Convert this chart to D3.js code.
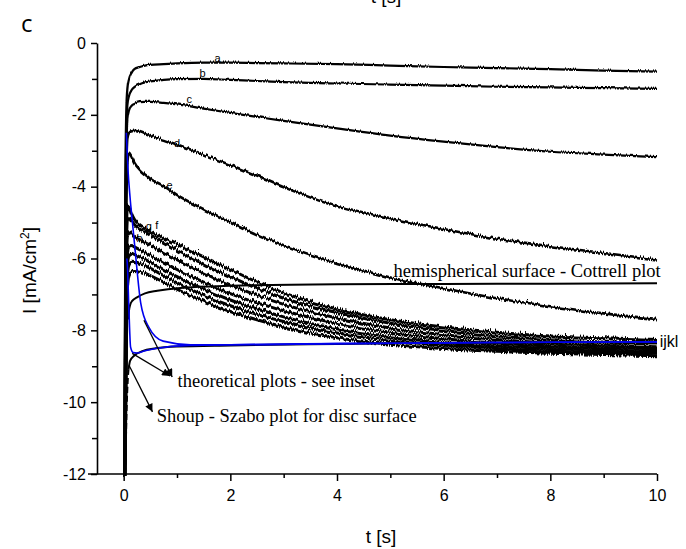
<!DOCTYPE html>
<html><head><meta charset="utf-8">
<script src="https://cdn.jsdelivr.net/npm/d3@7"></script>
<style>body{margin:0;background:#fff}svg{display:block}</style>
</head><body>
<svg id="chart" width="686" height="549"></svg>
<script>
// ---- data (t in s, I in mA/cm2) ----
const tTimes = [0.02, 0.03, 0.05, 0.07, 0.1, 0.15, 0.2, 0.3, 0.4, 0.5, 0.75, 1, 1.5, 2, 2.5, 3, 4, 5, 6, 7, 8, 9, 10];
const curveNames = ["a","b","c","d","e","f","g","h","i","j","k","l"];
const seriesA = [-12,-4,-1.8,-1.25,-0.98,-0.8,-0.7,-0.64,-0.6,-0.58,-0.56,-0.54,-0.52,-0.52,-0.53,-0.54,-0.56,-0.6,-0.64,-0.67,-0.7,-0.74,-0.77];
const seriesB = [-12,-5,-2.5,-1.7,-1.45,-1.28,-1.2,-1.12,-1.07,-1.04,-1.0,-0.98,-0.97,-1.0,-1.03,-1.06,-1.1,-1.13,-1.16,-1.19,-1.21,-1.23,-1.25];
const seriesC = [-12,-6,-3.2,-2.1,-1.85,-1.72,-1.67,-1.62,-1.61,-1.61,-1.64,-1.68,-1.8,-1.92,-2.03,-2.14,-2.35,-2.55,-2.72,-2.87,-3.0,-3.08,-3.15];
const seriesD = [-12,-7,-3.5,-2.6,-2.45,-2.4,-2.39,-2.42,-2.48,-2.54,-2.67,-2.8,-3.08,-3.37,-3.66,-3.96,-4.5,-4.85,-5.15,-5.42,-5.63,-5.82,-6.0];
const seriesE = [-12,-8,-4.5,-3.3,-3.02,-3.15,-3.3,-3.5,-3.63,-3.75,-3.95,-4.2,-4.6,-4.95,-5.3,-5.6,-6.1,-6.5,-6.8,-7.08,-7.3,-7.5,-7.66];
const seriesF = [-12,-9,-5.5,-4.45,-4.5,-4.7,-4.85,-5.0,-5.1,-5.2,-5.38,-5.55,-5.9,-6.25,-6.6,-6.9,-7.35,-7.65,-7.85,-8.0,-8.1,-8.15,-8.2];
const seriesG = [-12,-9.5,-6,-4.85,-4.8,-4.9,-5.0,-5.12,-5.2,-5.3,-5.5,-5.72,-6.1,-6.45,-6.78,-7.05,-7.45,-7.75,-7.95,-8.1,-8.2,-8.27,-8.3];
const seriesH = [-12,-10,-6.5,-5.3,-5.2,-5.25,-5.32,-5.42,-5.5,-5.58,-5.78,-5.98,-6.35,-6.68,-6.97,-7.22,-7.6,-7.88,-8.07,-8.2,-8.3,-8.36,-8.4];
const seriesI = [-12,-10.5,-7,-5.8,-5.6,-5.58,-5.62,-5.7,-5.78,-5.86,-6.05,-6.25,-6.6,-6.92,-7.18,-7.4,-7.75,-8.0,-8.18,-8.3,-8.38,-8.43,-8.45];
const seriesJ = [-12,-11,-7.5,-6.1,-5.85,-5.8,-5.83,-5.9,-5.97,-6.05,-6.25,-6.45,-6.8,-7.1,-7.35,-7.57,-7.9,-8.12,-8.28,-8.38,-8.45,-8.5,-8.52];
const seriesK = [-12,-11,-8,-6.4,-6.1,-6.02,-6.03,-6.08,-6.15,-6.22,-6.42,-6.62,-6.97,-7.26,-7.5,-7.7,-8.02,-8.22,-8.36,-8.45,-8.52,-8.56,-8.58];
const seriesL = [-12,-11.5,-8.5,-6.8,-6.4,-6.3,-6.28,-6.3,-6.35,-6.42,-6.6,-6.8,-7.13,-7.42,-7.65,-7.85,-8.15,-8.33,-8.45,-8.53,-8.58,-8.62,-8.65];
const experimental = [seriesA,seriesB,seriesC,seriesD,seriesE,seriesF,seriesG,seriesH,seriesI,seriesJ,seriesK,seriesL];

// theoretical (blue) curves
const blue1T = [0.05, 0.08, 0.12, 0.16, 0.22, 0.32, 0.47, 0.74, 1.25, 2, 4, 6, 8, 10];
const blue1I = [-2.5, -3.5, -4.3, -4.93, -5.85, -7.24, -7.91, -8.3, -8.4, -8.4, -8.37, -8.35, -8.33, -8.32];
const blue2T = [0.06, 0.07, 0.1, 0.13, 0.18, 0.25, 0.4, 0.63, 1.25, 2, 4, 6, 8, 10];
const blue2I = [-6.0, -6.2, -7.5, -8.47, -8.62, -8.63, -8.57, -8.5, -8.42, -8.4, -8.37, -8.35, -8.33, -8.32];
// hemispherical surface - Cottrell plot
const cottrellT = [0.09, 0.1, 0.12, 0.16, 0.25, 0.4, 0.63, 1.06, 2, 4, 6, 8, 10];
const cottrellI = [-7.7, -7.45, -7.3, -7.18, -7.08, -6.97, -6.9, -6.82, -6.76, -6.72, -6.71, -6.7, -6.69];
// Shoup - Szabo plot
const shoupT = [0.09, 0.12, 0.2, 0.35, 0.6, 1.0, 2, 4, 6, 8, 10];
const shoupI = [-9.1, -8.85, -8.7, -8.58, -8.5, -8.45, -8.42, -8.38, -8.35, -8.33, -8.32];
const shoupDashT = [0.03, 0.05, 0.08, 0.09];
const shoupDashI = [-12, -10.5, -9.3, -9.1];

// tick values
const xMajorTicks = [0, 2, 4, 6, 8, 10];
const xMinorTicks = [1, 3, 5, 7, 9];
const yMajorTicks = [0, -2, -4, -6, -8, -10, -12];
const yMinorTicks = [-1, -3, -5, -7, -9, -11];

// curve labels (t, I)
const labelT = [1.76, 1.48, 1.23, 1.0, 0.86, 0.62, 0.47, 0.3];
const labelI = [-0.43, -0.84, -1.57, -2.79, -3.96, -5.07, -5.1, -5.44];

// annotations: arrows [fromT, fromI, toT, toI]
const arrowTheo1 = [0.38, -7.72, 0.91, -9.3];
const arrowTheo2 = [0.16, -8.64, 0.87, -9.27];
const arrowShoup = [0.1, -8.97, 0.54, -10.27];
const annotTexts = ["theoretical plots - see inset", "Shoup - Szabo plot for disc surface", "hemispherical surface - Cottrell plot", "ijkl"];
const annotT = [1.01, 0.62, 5.06, 10.05];
const annotI = [-9.58, -10.55, -6.51, -8.46];

// ---- drawing ----
const svg = d3.select("#chart");
const x = d3.scaleLinear().domain([-0.5, 10]).range([97, 657]);
const y = d3.scaleLinear().domain([-12, 0]).range([474, 43]);

const defs = svg.append("defs");
defs.append("marker").attr("id","arr").attr("viewBox","0 0 10 10").attr("refX",10).attr("refY",5)
  .attr("markerWidth",12).attr("markerHeight",8).attr("markerUnits","userSpaceOnUse").attr("orient","auto")
  .append("path").attr("d","M0,0L10,5L0,10Z").attr("fill","#000");
// stroke texture: vertical jitter only, coherent across the stroke thickness
function jitterFilter(id, scale, seed){
  const f = defs.append("filter").attr("id",id).attr("filterUnits","userSpaceOnUse")
    .attr("x",0).attr("y",0).attr("width",686).attr("height",549);
  f.append("feTurbulence").attr("type","turbulence").attr("baseFrequency","0.6 0.015").attr("numOctaves",1).attr("seed",seed).attr("result","n");
  f.append("feColorMatrix").attr("in","n").attr("type","matrix")
    .attr("values","0 0 0 0 0.5  0 1 0 0 0  0 0 1 0 0  0 0 0 0 1").attr("result","m");
  f.append("feDisplacementMap").attr("in","SourceGraphic").attr("in2","m").attr("scale",scale).attr("xChannelSelector","R").attr("yChannelSelector","G");
}
jitterFilter("jS", 2, 2);
jitterFilter("jM", 4, 5);
jitterFilter("jL", 6, 8);

// axes
const gx = svg.append("g").attr("transform",`translate(0,${y(-12)})`);
gx.call(d3.axisBottom(x).tickValues(xMajorTicks).tickSize(7).tickPadding(9).tickSizeOuter(0).tickFormat(d=>String(d)));
const gxm = svg.append("g").attr("transform",`translate(0,${y(-12)})`);
gxm.call(d3.axisBottom(x).tickValues(xMinorTicks).tickSize(4).tickSizeOuter(0).tickFormat(""));
gxm.select(".domain").remove();
gx.select(".domain").remove();
svg.append("line").attr("x1",x(-0.5)-9).attr("x2",x(10)).attr("y1",y(-12)).attr("y2",y(-12)).attr("stroke","#000").attr("stroke-width",1.6);

const gy = svg.append("g").attr("transform",`translate(${x(-0.5)},0)`);
gy.call(d3.axisLeft(y).tickValues(yMajorTicks).tickSize(6).tickPadding(5).tickSizeOuter(0).tickFormat(d=>String(d)));
const gym = svg.append("g").attr("transform",`translate(${x(-0.5)},0)`);
gym.call(d3.axisLeft(y).tickValues(yMinorTicks).tickSize(5).tickSizeOuter(0).tickFormat(""));
gym.select(".domain").remove();
gy.select(".domain").attr("stroke-width",1.6);
svg.selectAll(".tick line").attr("stroke-width",1.5);
svg.selectAll(".tick text").attr("font-family","'Liberation Sans', Arial, sans-serif").attr("font-size",16).attr("fill","#000");

// axis titles
svg.append("text").attr("x",381).attr("y",543).attr("text-anchor","middle")
  .attr("font-family","'Liberation Sans', Arial, sans-serif").attr("font-size",19).text("t [s]");
svg.append("text").attr("x",386).attr("y",3).attr("text-anchor","middle")
  .attr("font-family","'Liberation Sans', Arial, sans-serif").attr("font-size",19).text("t [s]");
const yt = svg.append("text").attr("transform",`translate(36,${(y(0)+y(-12))/2+12}) rotate(-90)`).attr("text-anchor","middle")
  .attr("font-family","'Liberation Sans', Arial, sans-serif").attr("font-size",19);
yt.append("tspan").text("I [mA/cm");
yt.append("tspan").attr("dy",-7).attr("font-size",12).text("2");
yt.append("tspan").attr("dy",7).text("]");
svg.append("text").attr("x",21).attr("y",32).attr("font-family","'Open Sans', 'Noto Sans', sans-serif").attr("font-size",24).text("c");

const line = d3.line().x(d=>x(d[0])).y(d=>y(d[1])).curve(d3.curveMonotoneX);
const plot = svg.append("g");

// experimental curves
experimental.forEach((s,i)=>{
  const pts = tTimes.map((t,k)=>[t,s[k]]);
  plot.append("path").attr("d",line(pts)).attr("fill","none").attr("stroke","#000")
    .attr("stroke-width", i<3 ? 2.2 : (i<5 ? 2.6 : 3)).attr("stroke-linejoin","round")
    .attr("filter", i<3 ? "url(#jS)" : (i<5 ? "url(#jM)" : "url(#jL)"));
});

// Cottrell
plot.append("path").attr("d",line(cottrellT.map((t,k)=>[t,cottrellI[k]]))).attr("fill","none").attr("stroke","#000").attr("stroke-width",2);
// Shoup
plot.append("path").attr("d",line(shoupT.map((t,k)=>[t,shoupI[k]]))).attr("fill","none").attr("stroke","#000").attr("stroke-width",2);
plot.append("path").attr("d",line(shoupDashT.map((t,k)=>[t,shoupDashI[k]]))).attr("fill","none").attr("stroke","#000").attr("stroke-width",2).attr("stroke-dasharray","6,3");
// blue theoretical
plot.append("path").attr("d",line(blue1T.map((t,k)=>[t,blue1I[k]]))).attr("fill","none").attr("stroke","#0000ee").attr("stroke-width",1.6);
plot.append("path").attr("d",line(blue2T.map((t,k)=>[t,blue2I[k]]))).attr("fill","none").attr("stroke","#0000ee").attr("stroke-width",1.6);

// curve labels
labelT.forEach((t,i)=>{
  svg.append("text").attr("x",x(t)).attr("y",y(labelI[i])).attr("dy","0.35em").attr("text-anchor","middle")
    .attr("font-family","'Liberation Sans', Arial, sans-serif").attr("font-size",11).attr("fill","#000").text(curveNames[i]);
});

// arrows
[arrowTheo1, arrowTheo2, arrowShoup].forEach(a=>{
  svg.append("line").attr("x1",x(a[0])).attr("y1",y(a[1])).attr("x2",x(a[2])).attr("y2",y(a[3]))
    .attr("stroke","#000").attr("stroke-width",1.3).attr("marker-end","url(#arr)");
});

// annotation texts
annotTexts.forEach((txt,i)=>{
  const sans = i===3;
  svg.append("text").attr("x",x(annotT[i])).attr("y",y(annotI[i]))
    .attr("font-family", sans ? "'Liberation Sans', Arial, sans-serif" : "'Liberation Serif', 'Times New Roman', serif")
    .attr("font-size", sans ? 16 : 18.5).text(txt);
});
</script>
</body></html>
